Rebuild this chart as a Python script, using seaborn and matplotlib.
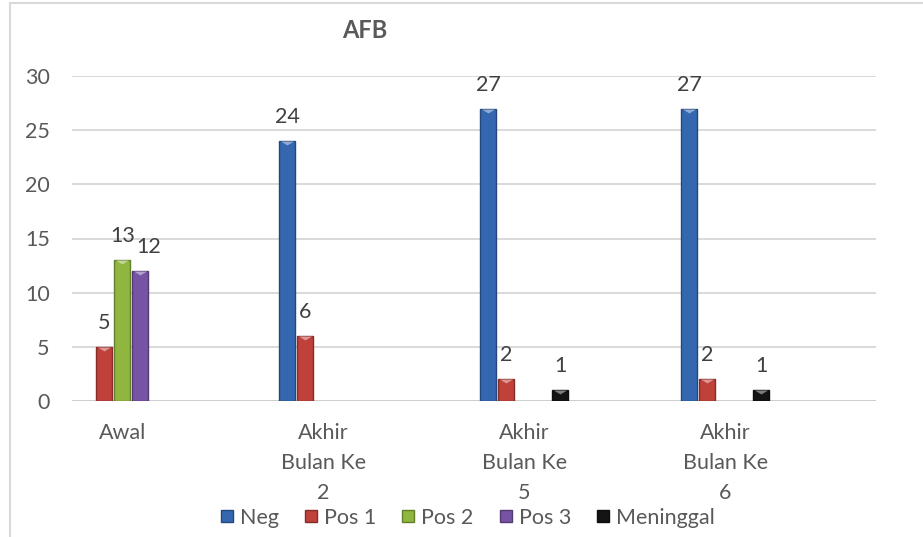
import numpy as np
import pandas as pd
import seaborn as sns
import matplotlib
matplotlib.use("Agg")
import matplotlib.pyplot as plt
from matplotlib.lines import Line2D
from matplotlib.patches import Rectangle
from matplotlib.path import Path
from matplotlib.colors import to_rgb

# ---- data ----
categories = ["Awal", "Akhir\nBulan Ke\n2", "Akhir\nBulan Ke\n5", "Akhir\nBulan Ke\n6"]
series = ["Neg", "Pos 1", "Pos 2", "Pos 3", "Meninggal"]
neg = [None, 24, 27, 27]
pos1 = [5, 6, 2, 2]
pos2 = [13, None, None, None]
pos3 = [12, None, None, None]
meninggal = [None, None, 1, 1]
y_ticks = [0, 5, 10, 15, 20, 25, 30]
title = "AFB"

colors = ["#3467B0", "#C0403A", "#8FB63E", "#7653A3", "#141414"]

rows = []
for name, vals in zip(series, [neg, pos1, pos2, pos3, meninggal]):
    for cat, v in zip(categories, vals):
        if v is not None:
            rows.append({"cat": cat, "series": name, "value": v})
df = pd.DataFrame(rows)

sns.set_theme(style="white")
plt.rcParams["font.family"] = ["Lato", "DejaVu Sans"]
text_color = "#595959"
FS = 15.5

W, H = 923, 537
fig = plt.figure(figsize=(W / 100, H / 100), dpi=100)
ax = fig.add_axes([72 / W, 1 - 401 / H, (876 - 72) / W, (401 - 76) / H])

def darker(c, f=0.7):
    r, g, b = to_rgb(c)
    return (r * f, g * f, b * f)

def lighter(c, f=0.45):
    r, g, b = to_rgb(c)
    return (r + (1 - r) * f, g + (1 - g) * f, b + (1 - b) * f)

sns.barplot(data=df, x="cat", y="value", hue="series", order=categories,
            hue_order=series, palette=colors, width=0.45, gap=0.11,
            ax=ax, legend=False, zorder=3, saturation=1)

# bevel-style shading: darker rim and a lighter notch at each bar top
notch = Path([(-1, 0), (1, 0), (0, -0.6), (-1, 0)],
             [Path.MOVETO, Path.LINETO, Path.LINETO, Path.CLOSEPOLY])
present = [(s, c) for s, c in zip(series, colors) if s in set(df["series"])]
for cont, (name, col) in zip(ax.containers, present):
    for p in cont.patches:
        p.set_edgecolor(darker(col))
        p.set_linewidth(1.0)
        xc = p.get_x() + p.get_width() / 2
        ax.scatter([xc], [p.get_height()], marker=notch, s=90,
                   color=lighter(col), zorder=4, linewidths=0)
    anns = ax.bar_label(cont, fmt="{:.0f}", padding=10, fontsize=FS, color="#404040")
    if name == "Pos 3":
        # nudge so it does not collide with the neighbouring Pos 2 label
        for a in anns:
            a.xyann = (6, a.xyann[1])

ax.set_xlim(-0.25, 3.75)
ax.set_ylim(0, 30)
ax.set_yticks(y_ticks)
for t in y_ticks[1:]:
    ax.axhline(t, color="#D9D9D9", lw=1.4, zorder=1)
ax.axhline(0, color="#BFBFBF", lw=1.8, zorder=2)

for s in ax.spines.values():
    s.set_visible(False)
ax.grid(False)
ax.set_xlabel("")
ax.set_ylabel("")
ax.tick_params(axis="y", length=0, pad=16, labelsize=FS, labelcolor=text_color)
ax.tick_params(axis="x", length=0, pad=16, labelsize=FS, labelcolor=text_color)
for lab in ax.get_xticklabels():
    lab.set_linespacing(1.62)
    lab.set_ha("center")

fig.text(365 / W, 1 - 30 / H, title, ha="center", va="center",
         fontsize=17, fontweight="bold", color=text_color)

handles = [Line2D([], [], marker="s", linestyle="", markersize=9,
                  markerfacecolor=c, markeredgecolor=darker(c))
           for c in colors]
fig.legend(handles, series, loc="center", bbox_to_anchor=(466 / W, 1 - 518 / H),
           ncol=5, frameon=False, fontsize=FS, handletextpad=0.15,
           columnspacing=1.05, handlelength=0.9, labelcolor=text_color,
           borderpad=0)

fig.add_artist(Rectangle((10 / W, -0.1), 1.2, 1 - 3 / H + 0.1,
                         transform=fig.transFigure, fill=False,
                         edgecolor="#D9D9D9", lw=1.5))

fig.savefig("out.png", dpi=100, facecolor="white")
